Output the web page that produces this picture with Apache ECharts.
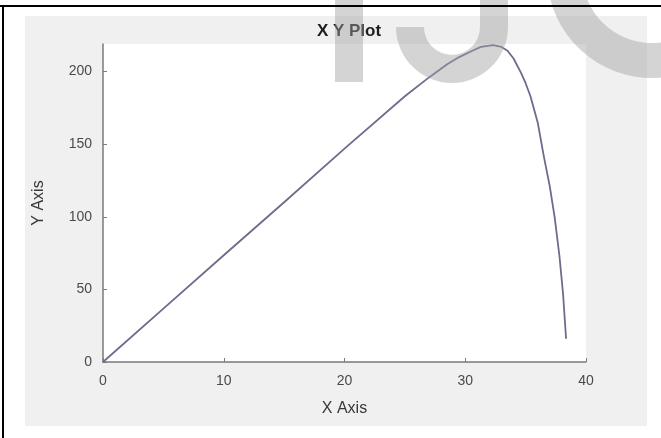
<!DOCTYPE html>
<html>
<head>
<meta charset="utf-8">
<script src="https://cdn.jsdelivr.net/npm/echarts@6/dist/echarts.min.js"></script>
<style>
html,body{margin:0;padding:0;background:#ffffff;}
#chart{width:661px;height:438px;}
</style>
</head>
<body>
<div id="chart"></div>
<script>
// Data
var xValues = [0, 5, 10, 15, 20, 25, 27, 28.5, 29.5, 30.5, 31.3, 32.3, 33.0, 33.5, 34.0, 34.6, 35.0, 35.4, 36.0, 36.5, 37.0, 37.4, 37.8, 38.1, 38.35];
var yValues = [0, 36.8, 73.5, 110, 147, 183, 196, 205, 210, 214, 217, 218.3, 217, 214.4, 209, 199.5, 192, 183, 165, 142, 121, 100, 73, 47, 16];
var xTicks = [0, 10, 20, 30, 40];
var yTicks = [0, 50, 100, 150, 200];
var titleText = 'X Y Plot';
var xName = 'X Axis';
var yName = 'Y Axis';

var points = xValues.map(function (x, i) { return [x, yValues[i]]; });

var chart = echarts.init(document.getElementById('chart'), null, {renderer: 'canvas'});
var wm = 'rgba(160,160,160,0.45)';
var font = 'Liberation Sans, Arial, sans-serif';

chart.setOption({
  animation: false,
  backgroundColor: '#ffffff',
  title: {
    text: titleText,
    left: 344,
    top: 18,
    textAlign: 'center',
    textStyle: {fontSize: 17, fontWeight: 'bold', color: '#1e1e1e', fontFamily: font}
  },
  grid: {
    left: 103, top: 44, right: 75, bottom: 76,
    show: true, backgroundColor: '#ffffff', borderWidth: 0
  },
  xAxis: {
    type: 'value', min: 0, max: 40, interval: 10,
    name: xName, nameLocation: 'middle', nameGap: 39,
    nameTextStyle: {fontSize: 16, color: '#383838', fontFamily: font},
    axisLine: {show: true, lineStyle: {color: '#7a7a7a', width: 1.5}},
    axisTick: {show: true, inside: true, length: 4, lineStyle: {color: '#7a7a7a'}},
    axisLabel: {fontSize: 14, color: '#4a4a4a', margin: 12, fontFamily: font, customValues: xTicks},
    splitLine: {show: false}
  },
  yAxis: {
    type: 'value', min: 0, max: 219,
    name: yName, nameLocation: 'middle', nameGap: 56,
    nameTextStyle: {fontSize: 16, color: '#383838', fontFamily: font},
    axisLine: {show: true, lineStyle: {color: '#7a7a7a', width: 1.5}},
    axisTick: {show: true, inside: true, length: 4, lineStyle: {color: '#7a7a7a'}, customValues: yTicks},
    axisLabel: {fontSize: 14, color: '#4a4a4a', margin: 11, fontFamily: font, customValues: yTicks},
    splitLine: {show: false}
  },
  series: [{
    type: 'line',
    data: points,
    showSymbol: false,
    smooth: false,
    lineStyle: {color: '#6c6c8c', width: 1.8, join: 'round'},
    z: 3
  }],
  graphic: [
    {type: 'rect', z: -10, shape: {x: 25, y: 16, width: 622, height: 410}, style: {fill: '#f0f0f0'}},
    {type: 'rect', z: 100, shape: {x: 335, y: -10, width: 28, height: 92}, style: {fill: wm}},
    {type: 'rect', z: 100, shape: {x: 480, y: -10, width: 28, height: 37}, style: {fill: wm}},
    {type: 'sector', z: 100, shape: {cx: 452, cy: 27, r: 56, r0: 28, startAngle: 0, endAngle: Math.PI, clockwise: true}, style: {fill: wm}},
    {type: 'sector', z: 100, shape: {cx: 652, cy: -27, r: 105, r0: 70, startAngle: 0.55, endAngle: Math.PI * 1.5, clockwise: true}, style: {fill: wm}},
    {type: 'line', z: 101, shape: {x1: 0, y1: 6, x2: 661, y2: 6}, style: {stroke: '#000000', lineWidth: 2}},
    {type: 'line', z: 101, shape: {x1: 3, y1: 5, x2: 3, y2: 438}, style: {stroke: '#000000', lineWidth: 2}}
  ]
});
</script>
</body>
</html>
